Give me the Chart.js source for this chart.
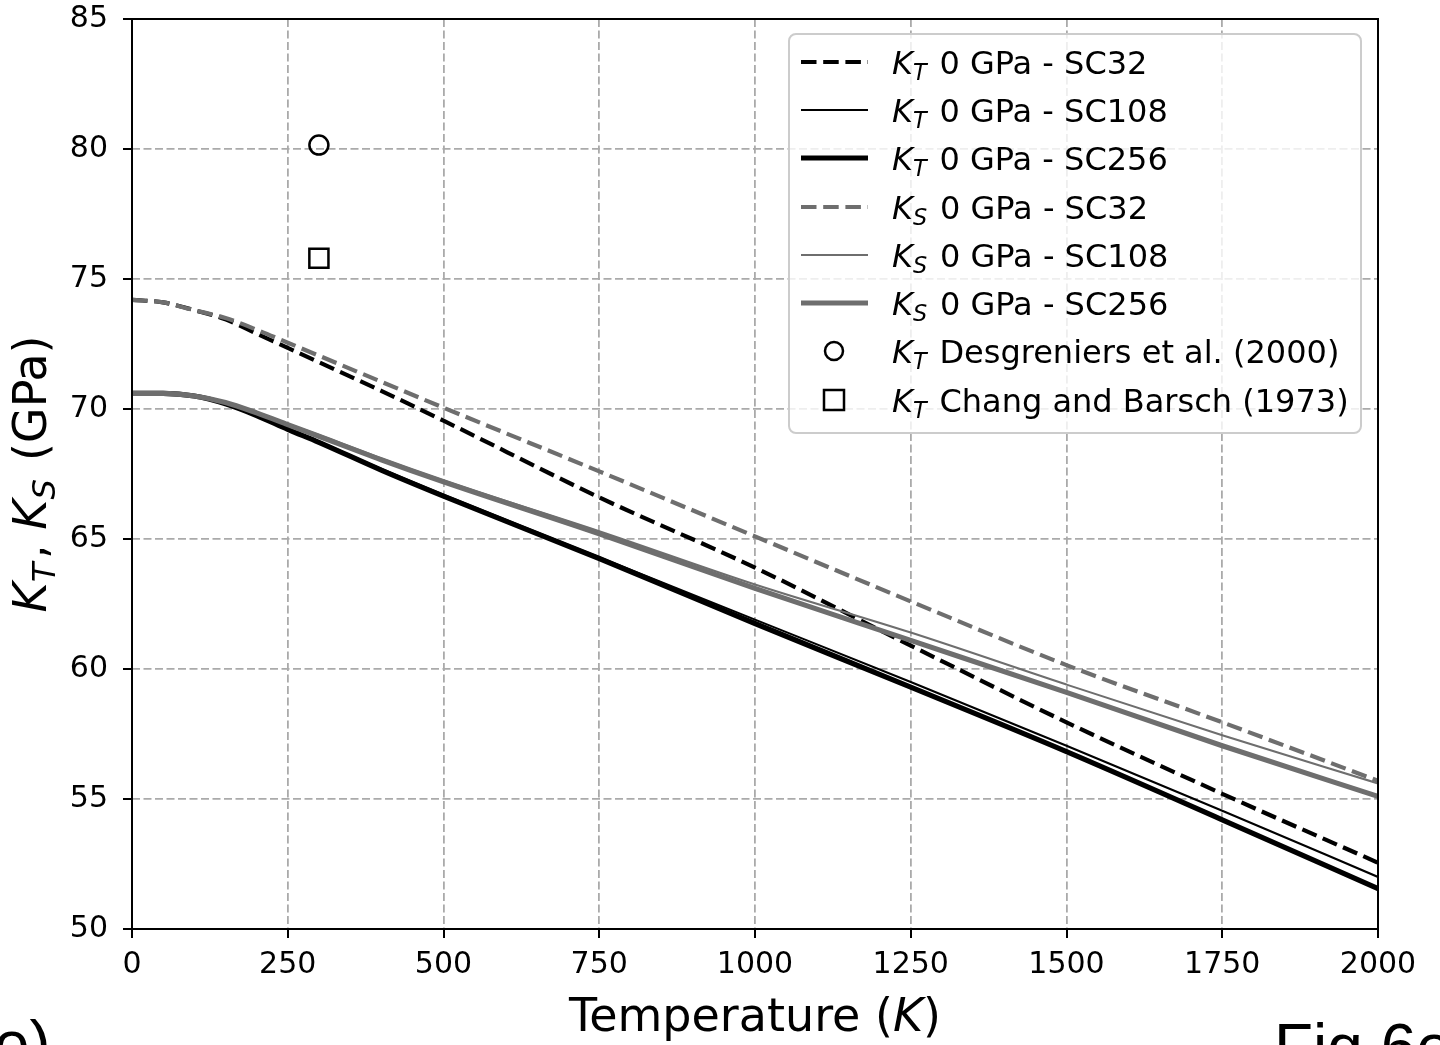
<!DOCTYPE html>
<html><head><meta charset="utf-8">
<style>
html,body{margin:0;padding:0;width:1440px;height:1045px;overflow:hidden;background:#fff;}
#wrap{position:absolute;left:0;top:0;width:1440px;height:1045px;}
</style>
<script src="https://cdn.jsdelivr.net/npm/chart.js@4"></script>
</head><body>
<div id="wrap"><canvas id="c" width="1440" height="1045"></canvas></div>
<script>
// ---------- data ----------
const temperatures = [0,50,100,150,200,250,300,400,500,750,1000,1250,1500,1750,2000];
const kT_SC32  = [74.2,74.1,73.8,73.45,72.9,72.35,71.8,70.7,69.55,66.6,63.9,60.9,57.95,55.2,52.55];
const kT_SC108 = [70.6,70.6,70.5,70.2,69.75,69.25,68.75,67.7,66.7,64.3,61.9,59.5,57.05,54.55,52.0];
const kT_SC256 = [70.6,70.6,70.5,70.2,69.75,69.22,68.72,67.65,66.65,64.25,61.75,59.3,56.82,54.2,51.55];
const kS_SC32  = [74.2,74.1,73.8,73.5,73.05,72.55,72.05,71.05,70.05,67.6,65.1,62.6,60.15,57.95,55.7];
const kS_SC108 = [70.6,70.6,70.5,70.25,69.85,69.42,69.0,68.1,67.25,65.3,63.25,61.4,59.4,57.45,55.6];
const kS_SC256 = [70.6,70.6,70.5,70.25,69.85,69.4,68.95,68.05,67.2,65.2,63.1,61.1,59.1,57.05,55.1];
const desgreniersT = [300];
const desgreniersK = [80.15];
const changT = [300];
const changK = [75.8];
const xTickValues = [0,250,500,750,1000,1250,1500,1750,2000];
const yTickValues = [50,55,60,65,70,75,80,85];
const legendLabels = [
  [{t:'K',it:1},{t:'T',it:1,sub:1},{t:' 0 GPa - SC32'}],
  [{t:'K',it:1},{t:'T',it:1,sub:1},{t:' 0 GPa - SC108'}],
  [{t:'K',it:1},{t:'T',it:1,sub:1},{t:' 0 GPa - SC256'}],
  [{t:'K',it:1},{t:'S',it:1,sub:1},{t:' 0 GPa - SC32'}],
  [{t:'K',it:1},{t:'S',it:1,sub:1},{t:' 0 GPa - SC108'}],
  [{t:'K',it:1},{t:'S',it:1,sub:1},{t:' 0 GPa - SC256'}],
  [{t:'K',it:1},{t:'T',it:1,sub:1},{t:' Desgreniers et al. (2000)'}],
  [{t:'K',it:1},{t:'T',it:1,sub:1},{t:' Chang and Barsch (1973)'}]
];
const xTitle = [{t:'Temperature ('},{t:'K',it:1},{t:')'}];
const yTitle = [{t:'K',it:1},{t:'T',it:1,sub:1},{t:', '},{t:'K',it:1},{t:'S',it:1,sub:1},{t:' (GPa)'}];

// ---------- styles ----------
const BLACK = '#000000', GRAY = '#6e6e6e';
const DASH = [15.5, 6.7];
const FF = '"DejaVu Sans"';
const styles = [
  {c:BLACK, w:4.2, d:DASH},
  {c:BLACK, w:2.1, d:[]},
  {c:BLACK, w:5.2, d:[]},
  {c:GRAY,  w:4.2, d:DASH},
  {c:GRAY,  w:2.1, d:[]},
  {c:GRAY,  w:5.2, d:[]}
];
const series = [kT_SC32,kT_SC108,kT_SC256,kS_SC32,kS_SC108,kS_SC256];

const datasets = series.map((vals,i)=>({
  type:'line',
  data: temperatures.map((t,j)=>({x:t,y:vals[j]})),
  borderColor: styles[i].c, borderWidth: styles[i].w, borderDash: styles[i].d,
  borderCapStyle:'butt',
  pointRadius:0, fill:false, cubicInterpolationMode:'monotone',
  order: 20 - i
}));
datasets.push({
  type:'scatter', data: desgreniersT.map((t,j)=>({x:t,y:desgreniersK[j]})),
  pointStyle:'circle', pointRadius:9.5, borderColor:BLACK, backgroundColor:'rgba(0,0,0,0)',
  borderWidth:2.5, showLine:false, order:2
});
datasets.push({
  type:'scatter', data: changT.map((t,j)=>({x:t,y:changK[j]})),
  pointStyle:'rect', pointRadius:13.5, borderColor:BLACK, backgroundColor:'rgba(0,0,0,0)',
  borderWidth:2.5, showLine:false, order:1
});

function richWidth(ctx, parts, size){
  let w=0;
  for(const p of parts){
    const s = p.sub ? size*0.7 : size;
    ctx.font = (p.it?'italic ':'') + s + 'px ' + FF;
    w += ctx.measureText(p.t).width + (p.sub ? size*0.08 : 0);
  }
  return w;
}
function drawRich(ctx, x, y, parts, size){
  let cx = x;
  ctx.textBaseline='alphabetic'; ctx.textAlign='left';
  for(const p of parts){
    const s = p.sub ? size*0.7 : size;
    ctx.font = (p.it?'italic ':'') + s + 'px ' + FF;
    ctx.fillText(p.t, cx, p.sub ? y + size*0.2 : y);
    cx += ctx.measureText(p.t).width + (p.sub ? size*0.08 : 0);
  }
}

const decor = {
  id:'decor',
  afterDatasetsDraw(chart){
    const ctx = chart.ctx, a = chart.chartArea;
    const xs = chart.scales.x, ys = chart.scales.y;
    ctx.save();
    // spines
    ctx.strokeStyle = BLACK; ctx.lineWidth = 2; ctx.setLineDash([]);
    ctx.strokeRect(a.left, a.top, a.right-a.left, a.bottom-a.top);
    // ticks
    ctx.beginPath();
    for(const v of xTickValues){ const p = Math.round(xs.getPixelForValue(v)); ctx.moveTo(p, a.bottom); ctx.lineTo(p, a.bottom+9); }
    for(const v of yTickValues){ const p = Math.round(ys.getPixelForValue(v)); ctx.moveTo(a.left-9, p); ctx.lineTo(a.left, p); }
    ctx.stroke();
    ctx.fillStyle = BLACK;
    // x title
    const tw = richWidth(ctx, xTitle, 46);
    drawRich(ctx, (a.left+a.right)/2 - tw/2, 1031, xTitle, 46);
    // y title
    ctx.save();
    ctx.translate(46, (a.top+a.bottom)/2);
    ctx.rotate(-Math.PI/2);
    const yw = richWidth(ctx, yTitle, 46);
    drawRich(ctx, -yw/2, 0, yTitle, 46);
    ctx.restore();
    // legend
    const L = 789, T = 34, R = 1361, B = 433;
    ctx.beginPath();
    ctx.roundRect(L, T, R-L, B-T, 7);
    ctx.fillStyle = 'rgba(255,255,255,0.8)'; ctx.fill();
    ctx.strokeStyle = '#cccccc'; ctx.lineWidth = 2; ctx.stroke();
    const rowY = [62,110,158,207,255,303,351,400];
    for(let i=0;i<8;i++){
      const y = rowY[i];
      if(i<6){
        const s = styles[i];
        ctx.beginPath(); ctx.strokeStyle = s.c; ctx.lineWidth = s.w; ctx.setLineDash(s.d); ctx.lineCap='butt';
        ctx.moveTo(801, y); ctx.lineTo(868, y); ctx.stroke(); ctx.setLineDash([]);
      } else if(i===6){
        ctx.beginPath(); ctx.strokeStyle = BLACK; ctx.lineWidth = 2.5; ctx.arc(834, y, 9, 0, Math.PI*2); ctx.stroke();
      } else {
        ctx.strokeStyle = BLACK; ctx.lineWidth = 2.5; ctx.strokeRect(824, y-10, 20, 20);
      }
      ctx.fillStyle = BLACK;
      drawRich(ctx, 892, y+12, legendLabels[i], 32);
    }
    // panel annotations
    ctx.font = '64px "Liberation Sans"'; ctx.fillStyle = BLACK; ctx.textAlign='left'; ctx.textBaseline='alphabetic';
    ctx.fillText('e)', -6, 1066);
    ctx.fillText('Fig 6e', 1274, 1069);
    ctx.restore();
  }
};

new Chart(document.getElementById('c'), {
  data:{ datasets },
  options:{
    responsive:false, animation:false, devicePixelRatio:1,
    layout:{ padding:{ top:19, right:62, left:0, bottom:0 } },
    plugins:{ legend:{display:false}, tooltip:{enabled:false} },
    scales:{
      x:{ type:'linear', min:0, max:2000,
          afterFit(s){ s.height = 116; s.paddingLeft = 0; s.paddingRight = 0; s.paddingTop = 0; s.paddingBottom = 0; },
          afterBuildTicks(s){ s.ticks = xTickValues.map(v=>({value:v})); },
          ticks:{ font:{family:'DejaVu Sans', size:30}, color:'#000', padding:18, maxRotation:0, callback:(v)=>String(v) },
          grid:{ color:'#aaaaaa', lineWidth:1.8, drawTicks:false },
          border:{ display:false, dash:[8,3.5] } },
      y:{ type:'linear', min:50, max:85,
          afterFit(s){ s.width = 132; s.paddingTop = 0; s.paddingBottom = 0; s.paddingLeft = 0; s.paddingRight = 0; },
          afterBuildTicks(s){ s.ticks = yTickValues.map(v=>({value:v})); },
          ticks:{ font:{family:'DejaVu Sans', size:30}, color:'#000', padding:24, callback:(v)=>String(v) },
          grid:{ color:'#aaaaaa', lineWidth:1.8, drawTicks:false },
          border:{ display:false, dash:[8,3.5] } }
    }
  },
  plugins:[decor]
});
</script>
</body></html>
